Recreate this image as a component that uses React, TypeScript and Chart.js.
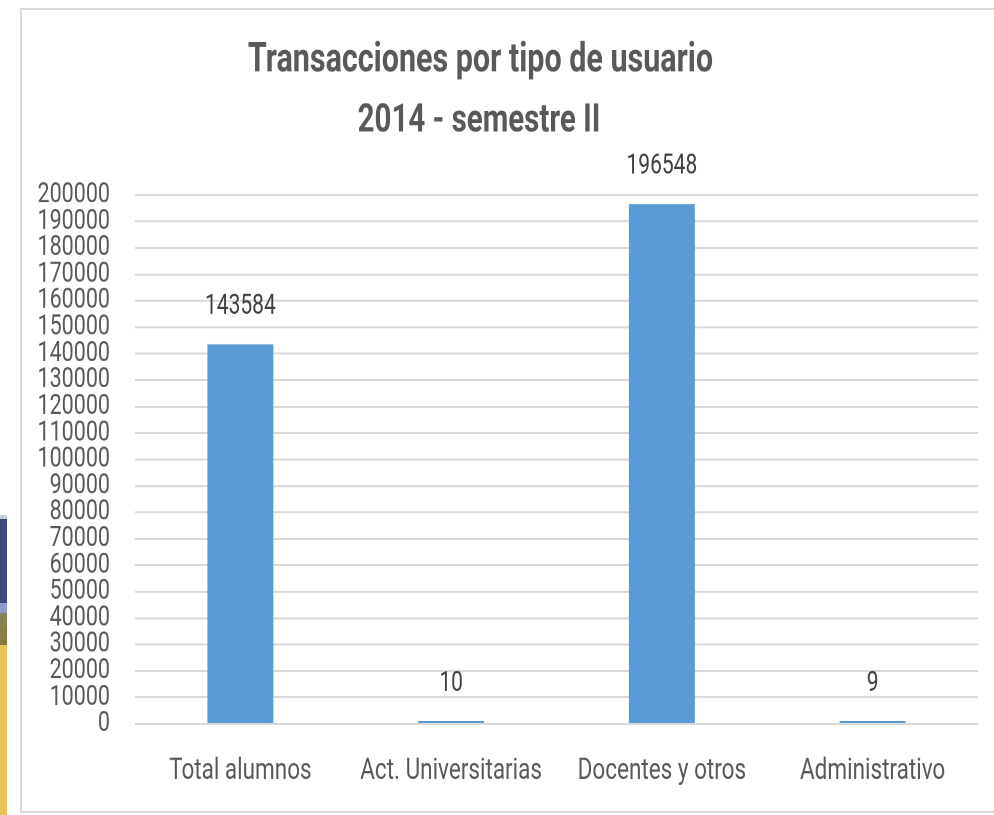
import React, { useEffect, useRef } from "react";
import { Chart, registerables } from "chart.js";

Chart.register(...registerables);

const categories = ["Total alumnos", "Act. Universitarias", "Docentes y otros", "Administrativo"];
const values = [143584, 10, 196548, 9];
const titleLines = ["Transacciones por tipo de usuario", "2014 - semestre II"];
const yMin = 0;
const yMax = 200000;
const yStep = 10000;

const TEXT = "#595959";
const FONT = "Roboto, 'Liberation Sans', sans-serif";

const CANVAS_W = 972;
const CANVAS_H = 600;
const STRETCH = 801 / 600;

const titlePlugin = {
  id: "customTitle",
  afterDraw(chart: any) {
    const ctx = chart.ctx;
    ctx.save();
    ctx.fillStyle = TEXT;
    ctx.textAlign = "center";
    ctx.textBaseline = "middle";
    ctx.font = `bold 30.5px ${FONT}`;
    ctx.fillText(titleLines[0], 458.5, 38.5);
    ctx.font = `bold 29.5px ${FONT}`;
    ctx.fillText(titleLines[1], 457, 83.5);
    ctx.restore();
  },
};

const valueLabelPlugin = {
  id: "valueLabels",
  afterDatasetsDraw(chart: any) {
    const ctx = chart.ctx;
    const meta = chart.getDatasetMeta(0);
    ctx.save();
    ctx.fillStyle = "#404040";
    ctx.textAlign = "center";
    ctx.textBaseline = "middle";
    ctx.font = `21px ${FONT}`;
    meta.data.forEach((el: any, i: number) => {
      const v = chart.data.datasets[0].data[i];
      ctx.fillText(String(v), el.x, el.y - 28);
    });
    ctx.restore();
  },
};

export default function App() {
  const ref = useRef<HTMLCanvasElement | null>(null);

  useEffect(() => {
    if (!ref.current) return;
    const chart = new Chart(ref.current, {
      type: "bar",
      data: {
        labels: categories,
        datasets: [
          {
            data: values,
            backgroundColor: "#5b9bd5",
            borderWidth: 0,
            categoryPercentage: 1,
            barPercentage: 0.313,
            minBarLength: 2.3,
          },
        ],
      },
      options: {
        responsive: false,
        animation: false,
        devicePixelRatio: 2,
        layout: { padding: { top: 138.6, left: 15, right: 16, bottom: 0 } },
        plugins: {
          legend: { display: false },
          title: { display: false },
          tooltip: { enabled: false },
        },
        scales: {
          x: {
            grid: { display: false },
            border: { display: false },
            ticks: {
              color: TEXT,
              font: { family: FONT, size: 22.5 },
              padding: 14,
              maxRotation: 0,
              autoSkip: false,
            },
            afterFit: (scale: any) => {
              scale.height = 65.2;
            },
          },
          y: {
            min: yMin,
            max: yMax,
            border: { display: false },
            grid: { color: "#d9d9d9", lineWidth: 1.5, drawTicks: false },
            ticks: {
              stepSize: yStep,
              color: TEXT,
              font: { family: FONT, size: 21.5 },
              padding: 25,
              autoSkip: false,
              callback: (v: any) => String(v),
            },
            afterFit: (scale: any) => {
              scale.width = 98;
            },
          },
        },
      },
      plugins: [titlePlugin, valueLabelPlugin],
    });
    return () => chart.destroy();
  }, []);

  return (
    <div
      style={{
        position: "absolute",
        left: 0,
        top: 0,
        width: 994,
        height: 815,
        overflow: "hidden",
        background: "#ffffff",
      }}
    >
      <div style={{ position: "absolute", left: 0, top: 515, width: 7, height: 4, background: "#c8ccd8" }} />
      <div style={{ position: "absolute", left: 0, top: 519, width: 7, height: 84, background: "#3d4a7c" }} />
      <div style={{ position: "absolute", left: 0, top: 603, width: 7, height: 10, background: "#8d9ccc" }} />
      <div
        style={{
          position: "absolute",
          left: 0,
          top: 613,
          width: 7,
          height: 32,
          background: "linear-gradient(#8a8660, #857a3a)",
        }}
      />
      <div style={{ position: "absolute", left: 0, top: 645, width: 7, height: 170, background: "#e8c454" }} />
      <div
        style={{
          position: "absolute",
          left: 20,
          top: 8,
          width: 990,
          height: 805,
          boxSizing: "border-box",
          border: "2px solid #d9d9d9",
          background: "#ffffff",
        }}
      >
        <div
          style={{
            width: CANVAS_W,
            height: CANVAS_H,
            transform: `scaleY(${STRETCH})`,
            transformOrigin: "0 0",
          }}
        >
          <canvas
            ref={ref}
            width={CANVAS_W}
            height={CANVAS_H}
            style={{ display: "block", width: CANVAS_W, height: CANVAS_H }}
          />
        </div>
      </div>
    </div>
  );
}
